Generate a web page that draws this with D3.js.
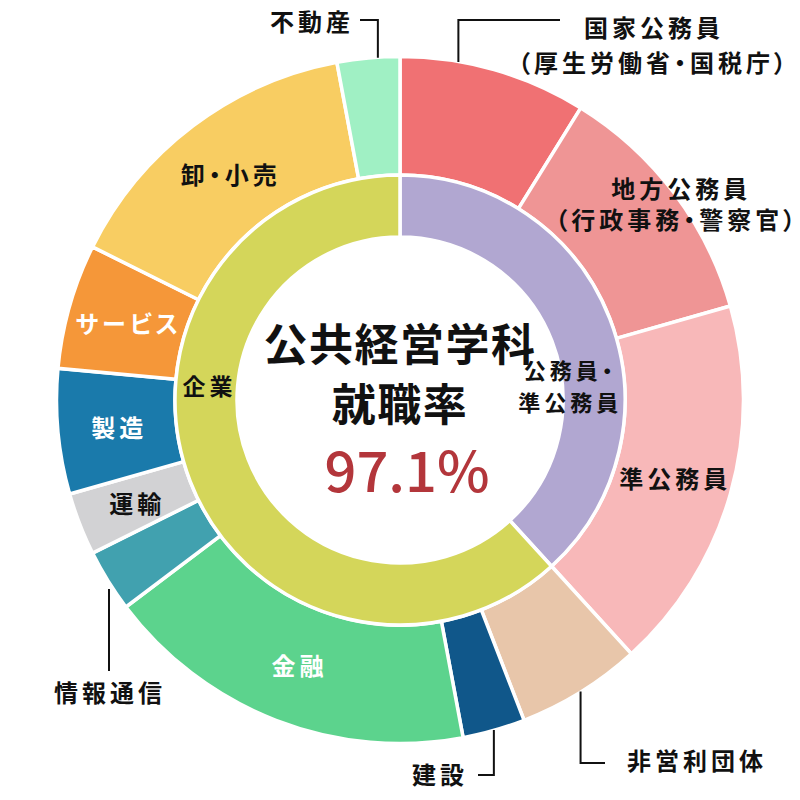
<!DOCTYPE html>
<meta charset="utf-8">
<head>
<script src="https://cdn.jsdelivr.net/npm/d3@7"></script>
<style>
body { margin: 0; background: #fff; }
text { font-family: "Noto Sans CJK JP", "Noto Sans", sans-serif; font-feature-settings: "palt"; }
</style>
</head>
<body>
<svg id="chart"></svg>
<script>
// outer ring: where graduates went (counts)
var sectors = ["国家公務員", "地方公務員", "準公務員", "非営利団体", "建設", "金融",
               "情報通信", "運輸", "製造", "サービス", "卸・小売", "不動産"];
var counts  = [3, 4, 6, 2, 1, 6, 1, 1, 2, 2, 5, 1];
var sectorColors = ["#f07173", "#ef9595", "#f8b8b9", "#e8c6aa", "#10578a", "#5cd38d",
                    "#41a1af", "#d2d2d4", "#1a7aab", "#f59739", "#f8cd62", "#a0f0c4"];

// inner ring
var groups = ["公務員・準公務員", "企業"];
var groupCounts = [13, 21];
var groupColors = ["#b1a7d1", "#d4d65a"];

var title = ["公共経営学科", "就職率"];
var rate = "97.1%";

var width = 800, height = 800;
var cx = 400, cy = 400;
var svg = d3.select("#chart").attr("width", width).attr("height", height);
var g = svg.append("g").attr("transform", "translate(" + cx + "," + cy + ")");

var pie = d3.pie().sort(null).value(function(d) { return d; });
var outerArc = d3.arc().innerRadius(225).outerRadius(343.5);
var innerArc = d3.arc().innerRadius(163).outerRadius(225);

var outerData = pie(counts);
var innerData = pie(groupCounts);

g.selectAll("path.outer")
  .data(outerData)
  .enter().append("path")
  .attr("class", "outer")
  .attr("d", outerArc)
  .attr("fill", function(d, i) { return sectorColors[i]; })
  .attr("stroke", "#fff")
  .attr("stroke-width", 3.5);

g.selectAll("path.inner")
  .data(innerData)
  .enter().append("path")
  .attr("class", "inner")
  .attr("d", innerArc)
  .attr("fill", function(d, i) { return groupColors[i]; })
  .attr("stroke", "#fff")
  .attr("stroke-width", 3.5);

function mid(d) { return (d.startAngle + d.endAngle) / 2; }
function deg(a) { return a * Math.PI / 180; }

function label(sel, size, spacing) {
  return sel.attr("font-size", size)
    .attr("font-weight", 700)
    .attr("letter-spacing", spacing)
    .attr("fill", "#111");
}

var whiteLabels = {"金融": 1, "サービス": 1, "製造": 1};
var insideLabels = ["準公務員", "金融", "運輸", "製造", "サービス", "卸・小売"];

// labels inside the outer ring, on the centroid
outerData.forEach(function(d, i) {
  var name = sectors[i];
  if (insideLabels.indexOf(name) < 0) return;
  var p = d3.pointRadial(mid(d), 284);
  label(g.append("text"), 24, 4)
    .attr("x", p[0] + 2).attr("y", p[1])
    .attr("text-anchor", "middle")
    .attr("dominant-baseline", "central")
    .attr("fill", whiteLabels[name] ? "#fff" : "#111")
    .text(name);
});

// 地方公務員: two lines inside the slice
var chiho = outerData[1];
var cp = d3.pointRadial(mid(chiho), 340);
var chihoText = label(g.append("text"), 24, 4);
chihoText.append("tspan").attr("x", cp[0] + 10).attr("y", cp[1] - 8)
  .attr("text-anchor", "middle").attr("dominant-baseline", "central").text("地方公務員");
chihoText.append("tspan").attr("x", cp[0] - 116).attr("y", cp[1] + 23)
  .attr("text-anchor", "start").attr("dominant-baseline", "central").text("（行政事務・警察官）");

// callouts: vertical leader from the ring, then horizontal
var callouts = [
  {name: "不動産", idx: 11, angle: 356.3, yEnd: -380, xEnd: -40, anchor: "end", lines: ["不動産"], tx: -46, ty: -380},
  {name: "国家公務員", idx: 0, angle: 9.8, yEnd: -380, xEnd: 160, anchor: "middle", lines: ["国家公務員", "（厚生労働省・国税庁）"], tx: 254, ty: -374},
  {name: "非営利団体", idx: 3, angle: null, yEnd: 363, xEnd: 205, anchor: "start", lines: ["非営利団体"], tx: 227, ty: 359},
  {name: "建設", idx: 4, angle: null, yEnd: 375, xEnd: 78, anchor: "end", lines: ["建設"], tx: 68, ty: 373},
  {name: "情報通信", idx: 6, angle: 237, yEnd: 271, xEnd: null, anchor: "middle", lines: ["情報通信"], tx: -290, ty: 291}
];

callouts.forEach(function(c) {
  var a = c.angle === null ? mid(outerData[c.idx]) : deg(c.angle);
  var r = c.name === "情報通信" ? 347 : 343;
  var p = d3.pointRadial(a, r);
  var pts = [[p[0], p[1]], [p[0], c.yEnd]];
  if (c.xEnd !== null) pts.push([c.xEnd, c.yEnd]);
  g.append("path")
    .attr("d", d3.line()(pts))
    .attr("fill", "none")
    .attr("stroke", "#111")
    .attr("stroke-width", 2);
  var t = label(g.append("text"), 24, 4).attr("text-anchor", c.anchor);
  c.lines.forEach(function(l, j) {
    t.append("tspan")
      .attr("x", c.tx)
      .attr("y", c.ty + j * 35)
      .attr("dominant-baseline", "central")
      .text(l);
  });
});

// inner ring labels
var inner1 = label(g.append("text"), 22, 4).attr("text-anchor", "middle");
var ip = d3.pointRadial(deg(85), 171);
inner1.append("tspan").attr("x", ip[0]).attr("y", ip[1] - 16).attr("dominant-baseline", "central").text("公務員・");
inner1.append("tspan").attr("x", ip[0]).attr("y", ip[1] + 16).attr("dominant-baseline", "central").text("準公務員");

var kp = d3.pointRadial(deg(274.4), 193);
label(g.append("text"), 23, 4)
  .attr("x", kp[0] + 2).attr("y", kp[1])
  .attr("text-anchor", "middle")
  .attr("dominant-baseline", "central")
  .text(groups[1]);

// centre
title.forEach(function(s, i) {
  label(g.append("text"), 44, 1.5)
    .attr("x", 0).attr("y", -58 + i * 60)
    .attr("text-anchor", "middle")
    .attr("dominant-baseline", "central")
    .text(s);
});
g.append("text")
  .attr("x", 7).attr("y", 67)
  .attr("text-anchor", "middle")
  .attr("dominant-baseline", "central")
  .attr("font-size", 56)
  .attr("font-weight", 500)
  .attr("fill", "#b3363b")
  .text(rate);
</script>
</body>
